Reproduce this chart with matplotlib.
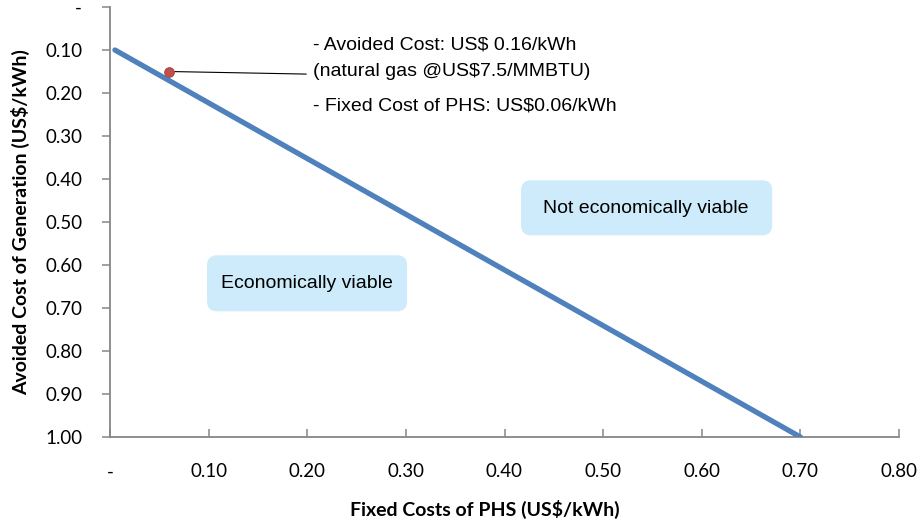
import matplotlib.pyplot as plt
from matplotlib.ticker import FixedLocator
from matplotlib.patches import FancyBboxPatch

# breakeven line: fixed cost of PHS vs avoided cost of generation
fixed_cost = [0.005, 0.70]
avoided_cost = [0.10, 1.00]

# example case
case_x = [0.06]
case_y = [0.15]

x_ticks = [0.0, 0.1, 0.2, 0.3, 0.4, 0.5, 0.6, 0.7, 0.8]
x_labels = ['-', '0.10', '0.20', '0.30', '0.40', '0.50', '0.60', '0.70', '0.80']
y_ticks = [0.0, 0.1, 0.2, 0.3, 0.4, 0.5, 0.6, 0.7, 0.8, 0.9, 1.0]
y_labels = ['-', '0.10', '0.20', '0.30', '0.40', '0.50', '0.60', '0.70', '0.80', '0.90', '1.00']

note_lines = ['- Avoided Cost: US$ 0.16/kWh', '(natural gas @US$7.5/MMBTU)', '- Fixed Cost of PHS: US$0.06/kWh']
region_labels = ['Not economically viable', 'Economically viable']

fig = plt.figure(figsize=(9.2, 5.27), dpi=100)
ax = fig.add_axes([110/920, 1-437/527, (899-110)/920, (437-7)/527])

ax.plot(fixed_cost, avoided_cost, color='#4f81bd', lw=3.8, solid_capstyle='round', zorder=3)
ax.plot(case_x, case_y, 'o', color='#c0504d', markersize=7, markeredgecolor='#a0403d', markeredgewidth=0.6, zorder=4)

ax.set_xlim(0, 0.8)
ax.set_ylim(1.0, 0.0)
ax.xaxis.set_major_locator(FixedLocator(x_ticks))
ax.yaxis.set_major_locator(FixedLocator(y_ticks))
ax.set_xticklabels(x_labels)
ax.set_yticklabels(y_labels)

for s in ['top', 'right']:
    ax.spines[s].set_visible(False)
for s in ['left', 'bottom']:
    ax.spines[s].set_color('#868686')
    ax.spines[s].set_linewidth(1.3)
ax.tick_params(axis='x', direction='in', length=6, width=1.1, color='#868686', pad=19, labelsize=13.5)
ax.tick_params(axis='y', direction='out', length=6, width=1.1, color='#868686', pad=14, labelsize=13.5)
for lab in ax.get_xticklabels() + ax.get_yticklabels():
    lab.set_family('Lato')

ax.set_xlabel('Fixed Costs of PHS (US$/kWh)', fontsize=14, fontweight='bold', family='Lato')
ax.set_ylabel('Avoided Cost of Generation (US$/kWh)', fontsize=14, fontweight='bold', family='Lato')
ax.xaxis.set_label_coords((485-110)/789, -(500-437)/430)
ax.yaxis.set_label_coords(-(110-30)/789, 0.5)

# annotation text and leader line
ax.annotate('', xy=(case_x[0], case_y[0]), xytext=(0.199, 0.156),
            arrowprops=dict(arrowstyle='-', color='black', lw=0.8, shrinkA=0, shrinkB=0))
note_y = [0.089, 0.149, 0.231]
for t, yy in zip(note_lines, note_y):
    ax.text(0.206, yy, t, fontsize=14, family='Liberation Sans', va='center', ha='left')

# rounded label boxes (x0, y0, w, h in data units) and their text centres
boxes = [(0.4168, 0.403, 0.2546, 0.128), (0.0984, 0.5774, 0.2028, 0.1303)]
centres = [(0.5436, 0.468), (0.1998, 0.6426)]
for (bx, by, bw, bh), (cx, cy), lab in zip(boxes, centres, region_labels):
    ax.add_patch(FancyBboxPatch((bx, by), bw, bh, boxstyle='round,pad=0,rounding_size=0.0101',
                                mutation_aspect=2.29, fc='#cdebfb', ec='none', zorder=1))
    ax.text(cx, cy, lab, fontsize=14, family='Liberation Sans', ha='center', va='center', zorder=2)

fig.savefig('out.png', dpi=100)
